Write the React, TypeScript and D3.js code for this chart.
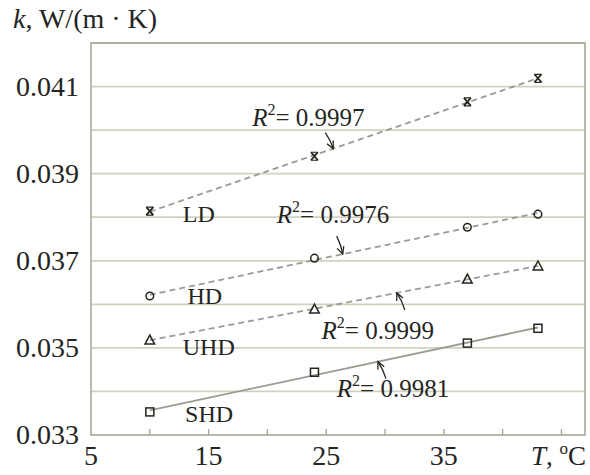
import React from 'react';
import * as d3 from 'd3';

// measured temperatures, °C
const temps = [10, 24, 37, 43];

// thermal conductivity per sample, W/(m·K)
const seriesNames = ['LD', 'HD', 'UHD', 'SHD'];
const kLD = [0.03814, 0.03940, 0.04065, 0.04119];
const kHD = [0.03619, 0.03706, 0.03777, 0.03807];
const kUHD = [0.03518, 0.03589, 0.03658, 0.03688];
const kSHD = [0.03353, 0.03444, 0.03511, 0.03545];
const rSquared = ['0.9997', '0.9976', '0.9999', '0.9981'];

const yTickLabels = ['0.033', '0.035', '0.037', '0.039', '0.041'];
const xTickLabels = ['5', '15', '25', '35'];

const W = 590;
const H = 475;
const margin = { top: 43, right: 5, bottom: 40, left: 91 };
const FONT = '"Liberation Serif", "Times New Roman", serif';
const INK = '#25251f';
const GRID = '#d0d2c0';
const FRAME = '#a8a99a';
const TREND = '#9b9b92';

// annotation placement (data units for anchors, px for arrow tails)
const nameAt = [[12.8, 0.03789], [13.2, 0.03601], [12.8, 0.03484], [13.0, 0.03330]];
const r2At = [[18.7, 0.04009], [20.8, 0.03787], [24.6, 0.03520], [25.9, 0.03387]];
const arrowHeadT = [25.6, 26.4, 31.0, 29.4];
const arrowTail = [[-8, -16], [-6, -18], [8, 17], [8, 17]];

function fit(xs: number[], ys: number[]) {
  const mx = d3.mean(xs) as number;
  const my = d3.mean(ys) as number;
  const b = d3.sum(xs.map((x, i) => (x - mx) * (ys[i] - my))) / d3.sum(xs.map((x) => (x - mx) ** 2));
  return (x: number) => my + b * (x - mx);
}

function Marker({ kind, x, y }: { kind: string; x: number; y: number }) {
  const st = { fill: 'none', stroke: INK, strokeWidth: 1.5 };
  if (kind === 'LD') {
    return (
      <g {...st}>
        <path d={`M${x - 3.5},${y - 4}L${x + 3.5},${y + 4}M${x + 3.5},${y - 4}L${x - 3.5},${y + 4}`} strokeWidth={1.8} />
        <path d={`M${x - 3.5},${y - 4}H${x + 3.5}M${x - 3.5},${y + 4}H${x + 3.5}`} strokeWidth={1.2} />
      </g>
    );
  }
  if (kind === 'HD') return <circle cx={x} cy={y} r={3.8} {...st} />;
  if (kind === 'UHD') return <path d={`M${x},${y - 5}L${x + 4.8},${y + 4}L${x - 4.8},${y + 4}Z`} {...st} />;
  return <rect x={x - 4} y={y - 4} width={8} height={8} {...st} />;
}

export default function App() {
  const x = d3.scaleLinear().domain([5, 47]).range([margin.left, W - margin.right]);
  const y = d3.scaleLinear().domain([0.033, 0.042]).range([H - margin.bottom, margin.top]);
  const data = [kLD, kHD, kUHD, kSHD];
  const grid = d3.range(0.034, 0.04201, 0.001);
  const xTicks = d3.range(10, 46, 5);

  return (
    <svg width={W} height={H} style={{ position: 'fixed', left: 0, top: 0, background: '#fff' }} fontFamily={FONT}>
      {grid.map((g) => (
        <line key={g} x1={x(5)} x2={x(47)} y1={y(g)} y2={y(g)} stroke={GRID} strokeWidth={1.8} />
      ))}
      <rect x={x(5)} y={y(0.042)} width={x(47) - x(5)} height={y(0.033) - y(0.042)} fill="none" stroke={FRAME} strokeWidth={1.6} />
      {xTicks.map((t) => (
        <line key={t} x1={x(t)} x2={x(t)} y1={y(0.033)} y2={y(0.033) - 6} stroke={FRAME} strokeWidth={1.4} />
      ))}

      {data.map((ks, i) => {
        const f = fit(temps, ks);
        return (
          <line
            key={'t' + i}
            x1={x(temps[0])}
            y1={y(f(temps[0]))}
            x2={x(temps[temps.length - 1])}
            y2={y(f(temps[temps.length - 1]))}
            stroke={TREND}
            strokeWidth={1.8}
            strokeDasharray={seriesNames[i] === 'SHD' ? undefined : '6,4'}
          />
        );
      })}

      {data.map((ks, i) =>
        ks.map((k, j) => <Marker key={i + '-' + j} kind={seriesNames[i]} x={x(temps[j])} y={y(k)} />)
      )}

      {data.map((ks, i) => {
        const f = fit(temps, ks);
        const hx = x(arrowHeadT[i]);
        const hy = y(f(arrowHeadT[i]));
        const tx = hx + arrowTail[i][0];
        const ty = hy + arrowTail[i][1];
        const ang = Math.atan2(hy - ty, hx - tx);
        const a1 = ang + Math.PI - 0.45;
        const a2 = ang + Math.PI + 0.45;
        const L = 8;
        return (
          <g key={'a' + i} fill="none" stroke={INK} strokeWidth={1.3}>
            <path d={`M${tx},${ty}Q${(tx + hx) / 2 + 1.5},${(ty + hy) / 2},${hx},${hy}`} />
            <path d={`M${hx + L * Math.cos(a1)},${hy + L * Math.sin(a1)}L${hx},${hy}L${hx + L * Math.cos(a2)},${hy + L * Math.sin(a2)}`} />
          </g>
        );
      })}

      {seriesNames.map((n, i) => (
        <text key={n} x={x(nameAt[i][0])} y={y(nameAt[i][1])} fontSize={24} fill={INK}>
          {n}
        </text>
      ))}

      {rSquared.map((r, i) => (
        <text key={'r' + i} x={x(r2At[i][0])} y={y(r2At[i][1])} fontSize={25} fill={INK}>
          <tspan fontStyle="italic">R</tspan>
          <tspan fontSize={16} dy={-11}>2</tspan>
          <tspan dy={11}>{'= ' + r}</tspan>
        </text>
      ))}

      {yTickLabels.map((l) => (
        <text key={l} x={79} y={y(+l)} dy={9} textAnchor="end" fontSize={28} fill={INK}>
          {l}
        </text>
      ))}
      {xTickLabels.map((l) => (
        <text key={l} x={x(+l)} y={465} textAnchor="middle" fontSize={28} fill={INK}>
          {l}
        </text>
      ))}
      <text x={586} y={465} textAnchor="end" fontSize={27} fill={INK}>
        <tspan fontStyle="italic">T</tspan>
        <tspan>, </tspan>
        <tspan fontSize={17} dy={-11}>o</tspan>
        <tspan dy={11}>C</tspan>
      </text>
      <text x={13} y={28} fontSize={28} fill={INK}>
        <tspan fontStyle="italic">k</tspan>
        <tspan>, W/(m · K)</tspan>
      </text>
    </svg>
  );
}
